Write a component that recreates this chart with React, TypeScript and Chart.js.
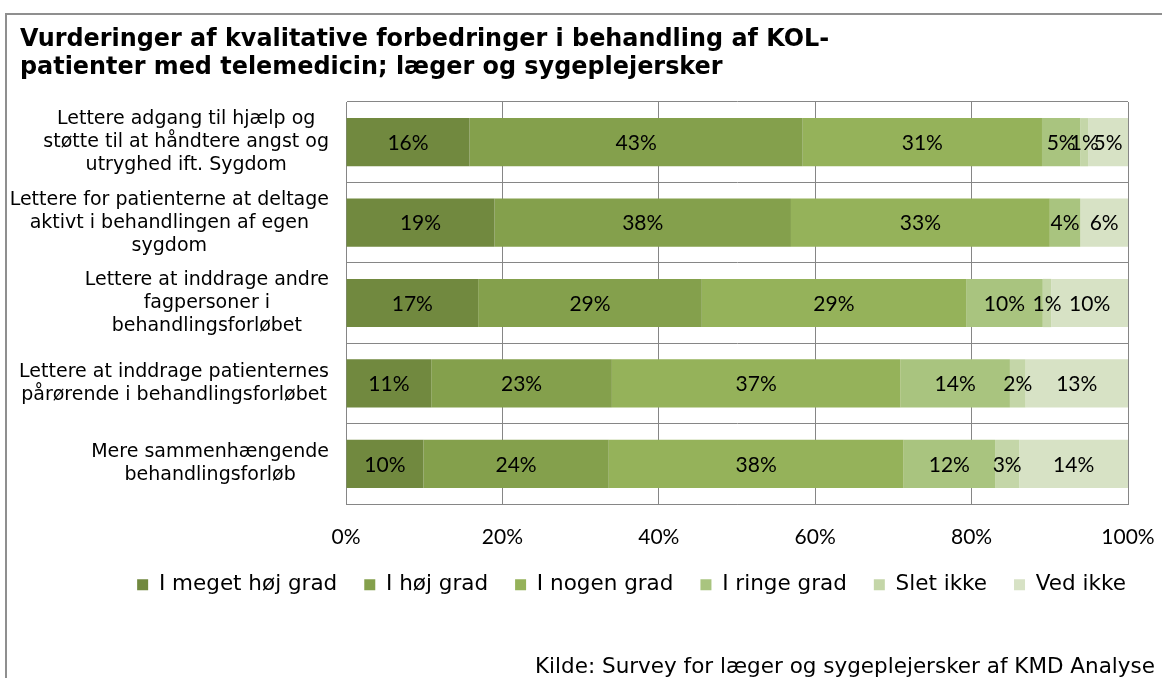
import React, { useEffect, useRef } from 'react';
import { Chart, registerables } from 'chart.js';

Chart.register(...registerables);

// Categories (multi-line labels)
const categories: string[][] = [
  ['Lettere adgang til hjælp og', 'støtte til at håndtere angst og', 'utryghed ift. Sygdom'],
  ['Lettere for patienterne at deltage', 'aktivt i behandlingen af egen', 'sygdom'],
  ['Lettere at inddrage andre', 'fagpersoner i', 'behandlingsforløbet'],
  ['Lettere at inddrage patienternes', 'pårørende i behandlingsforløbet'],
  ['Mere sammenhængende', 'behandlingsforløb'],
];

const seriesNames = ['I meget høj grad', 'I høj grad', 'I nogen grad', 'I ringe grad', 'Slet ikke', 'Ved ikke'];

// Segment widths (percent)
const megetHoejGrad = [15.8, 19.0, 16.9, 10.9, 9.9];
const hoejGrad = [42.6, 37.9, 28.6, 23.1, 23.7];
const nogenGrad = [30.6, 33.1, 33.8, 36.9, 37.7];
const ringeGrad = [4.9, 3.9, 9.8, 14.0, 11.7];
const sletIkke = [1.0, 0, 1.1, 2.0, 3.1];
const vedIkke = [5.1, 6.1, 9.8, 13.1, 13.9];

// Printed data labels (percent) as shown in the picture
const megetHoejLabels = [16, 19, 17, 11, 10];
const hoejLabels = [43, 38, 29, 23, 24];
const nogenLabels = [31, 33, 29, 37, 38];
const ringeLabels = [5, 4, 10, 14, 12];
const sletLabels: (number | null)[] = [1, null, 1, 2, 3];
const vedLabels = [5, 6, 10, 13, 14];

const xTickValues = [0, 20, 40, 60, 80, 100];

const seriesColors = ['#71893F', '#84A04C', '#95B25A', '#A9C47F', '#C4D6A8', '#D7E2C5'];

const seriesValues = [megetHoejGrad, hoejGrad, nogenGrad, ringeGrad, sletIkke, vedIkke];
const seriesLabels = [megetHoejLabels, hoejLabels, nogenLabels, ringeLabels, sletLabels, vedLabels];

const dataLabelPlugin = {
  id: 'dataLabelPlugin',
  afterDatasetsDraw(chart: any) {
    const ctx = chart.ctx;
    ctx.save();
    ctx.font = '21px Lato';
    ctx.fillStyle = '#000';
    ctx.textAlign = 'center';
    ctx.textBaseline = 'middle';
    chart.data.datasets.forEach((_ds: any, i: number) => {
      const meta = chart.getDatasetMeta(i);
      meta.data.forEach((bar: any, j: number) => {
        const v = seriesLabels[i][j];
        if (v === null || v === undefined) return;
        const p = bar.getCenterPoint();
        ctx.fillText(v + '%', p.x, p.y + 1);
      });
    });
    ctx.restore();
  },
};

const categoryLabelPlugin = {
  id: 'categoryLabelPlugin',
  afterDraw(chart: any) {
    const ctx = chart.ctx;
    const yScale = chart.scales.y;
    const right = chart.chartArea.left - 17;
    const lh = 23;
    ctx.save();
    ctx.font = '19px "DejaVu Sans"';
    ctx.fillStyle = '#000';
    ctx.textAlign = 'center';
    ctx.textBaseline = 'middle';
    categories.forEach((lines, i) => {
      const y = yScale.getPixelForValue(i);
      const w = Math.max(...lines.map((l) => ctx.measureText(l).width));
      const cx = right - w / 2;
      lines.forEach((l, k) => {
        ctx.fillText(l, cx, y + (k - (lines.length - 1) / 2) * lh);
      });
    });
    ctx.restore();
  },
};

export default function App() {
  const ref = useRef<HTMLCanvasElement>(null);
  useEffect(() => {
    const canvas = ref.current!;
    const chart = new Chart(canvas, {
      type: 'bar',
      data: {
        labels: categories.map((c) => c.join(' ')),
        datasets: seriesNames.map((name, i) => ({
          label: name,
          data: seriesValues[i],
          backgroundColor: seriesColors[i],
          borderWidth: 0,
          barPercentage: 0.6,
          categoryPercentage: 1,
        })),
      },
      options: {
        responsive: false,
        animation: false,
        devicePixelRatio: 1,
        indexAxis: 'y',
        layout: { padding: { left: 101, right: 0, top: 102, bottom: 72.5 } },
        plugins: {
          legend: {
            position: 'bottom',
            align: 'center',
            labels: {
              boxWidth: 11,
              boxHeight: 11,
              padding: 27,
              color: '#000',
              font: { family: 'DejaVu Sans', size: 21.5 },
            },
          },
          tooltip: { enabled: false },
          title: { display: false },
        },
        scales: {
          x: {
            stacked: true,
            min: 0,
            max: 100,
            afterBuildTicks: (s: any) => {
              s.ticks = xTickValues.map((v) => ({ value: v }));
            },
            ticks: {
              padding: 21,
              color: '#000',
              font: { family: 'Lato', size: 21 },
              callback: (v: any) => v + '%',
            },
            grid: { color: '#868686', lineWidth: 1, drawTicks: false },
            border: { color: '#868686' },
            afterFit: (s: any) => {
              s.height = 43;
              s.paddingRight = 34;
              s.paddingLeft = 0;
            },
          },
          y: {
            stacked: true,
            ticks: { display: false },
            grid: { color: '#868686', lineWidth: 1, drawTicks: false, offset: true },
            border: { color: '#868686' },
            afterFit: (s: any) => {
              s.width = 245;
            },
          },
        },
      },
      plugins: [dataLabelPlugin, categoryLabelPlugin],
    } as any);
    return () => chart.destroy();
  }, []);

  return (
    <div style={{ position: 'fixed', left: 0, top: 0, width: 1162, height: 678, background: '#fff', overflow: 'hidden' }}>
      <canvas ref={ref} width={1162} height={678} style={{ position: 'absolute', left: 0, top: 0, display: 'block' }} />
      <div
        style={{
          position: 'absolute',
          left: 5,
          top: 13,
          width: 1157,
          height: 665,
          borderTop: '2px solid #8f8f8f',
          borderLeft: '2px solid #8f8f8f',
          boxSizing: 'border-box',
          pointerEvents: 'none',
        }}
      />
      <div
        style={{
          position: 'absolute',
          left: 20,
          top: 24,
          fontFamily: '"DejaVu Sans", sans-serif',
          fontWeight: 'bold',
          fontSize: 23.9,
          lineHeight: '28px',
          color: '#000',
          whiteSpace: 'nowrap',
        }}
      >
        <div>Vurderinger af kvalitative forbedringer i behandling af KOL-</div>
        <div>patienter med telemedicin; læger og sygeplejersker</div>
      </div>
      <div
        style={{
          position: 'absolute',
          right: 7,
          top: 654,
          fontFamily: '"DejaVu Sans", sans-serif',
          fontSize: 21.5,
          lineHeight: '24px',
          color: '#000',
          whiteSpace: 'nowrap',
        }}
      >
        Kilde: Survey for læger og sygeplejersker af KMD Analyse
      </div>
    </div>
  );
}
